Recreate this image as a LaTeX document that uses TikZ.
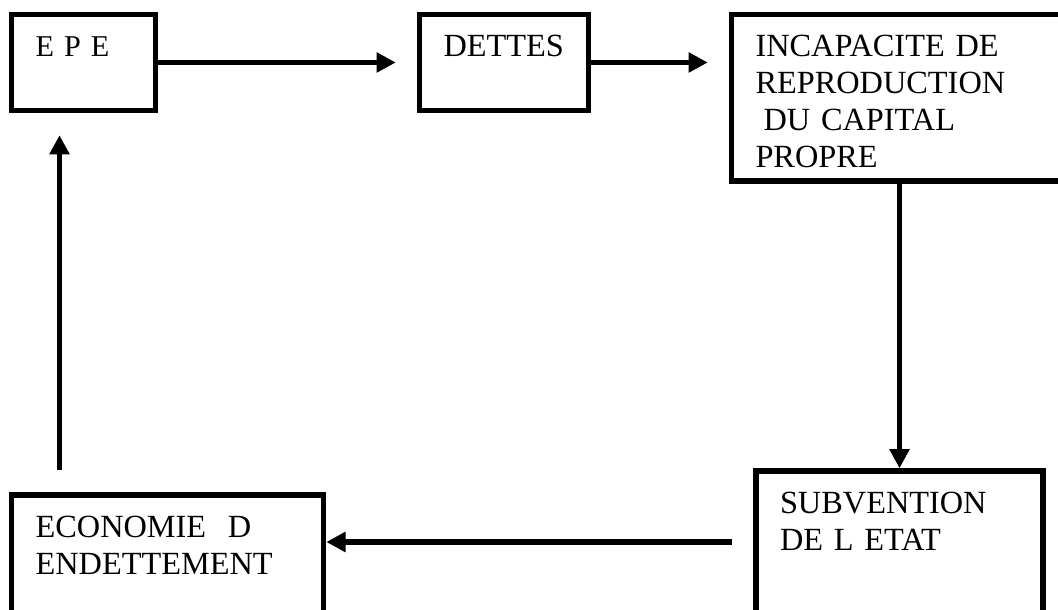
\documentclass[tikz,border=0pt]{standalone}
\usepackage{fontspec}
\setmainfont{Liberation Serif}
\usetikzlibrary{arrows.meta}

\begin{document}
\begin{tikzpicture}[box/.style={draw, line width=0.135cm, inner xsep=0.6cm, inner ysep=0pt, text height=1.06cm, align=left, font=\fontsize{23}{26.1}\selectfont},
  arr/.style={line width=0.135cm, -{Triangle[length=0.48cm,width=0.48cm]}}]
\clip[use as bounding box] (0,0) rectangle (26.45,15.25);

\node[box, text width=2.4cm, text depth=1.34cm, font=\fontsize{21.5}{26.1}\selectfont] (epe) at (2.0875,13.6875) {E P E};
\node[box, text width=3.025cm, text depth=1.34cm] (dettes) at (12.6,13.6875) {DETTES};
\node[box, text width=7.225cm, text depth=3.10cm] (incap) at (22.5,12.80625) {INCAPACITE DE\\REPRODUCTION\\\hspace*{0.25em}DU CAPITAL\\PROPRE};
\node[box, text width=5.975cm, text depth=2.49cm] (subv) at (22.4875,1.7) {SUBVENTION\\DE L ETAT};
\node[box, text width=6.6cm, text depth=1.89cm] (econ) at (4.19,1.4) {ECONOMIE \ D\\ENDETTEMENT};

\coordinate (up) at ([xshift=-0.6cm]epe.south);

\draw[arr, shorten >=0.525cm] (epe) -- (dettes);
\draw[arr, shorten >=0.525cm] (dettes.east) -- (dettes.east -| incap.west);
\draw[arr] (incap.south -| subv.north) -- (subv.north);
\draw[arr, shorten <=0.5375cm] (subv.west) -- (subv.west -| econ.east);
\draw[arr, shorten <=0.56cm, shorten >=0.55cm] (up |- econ.north) -- (up);
\end{tikzpicture}
\end{document}
